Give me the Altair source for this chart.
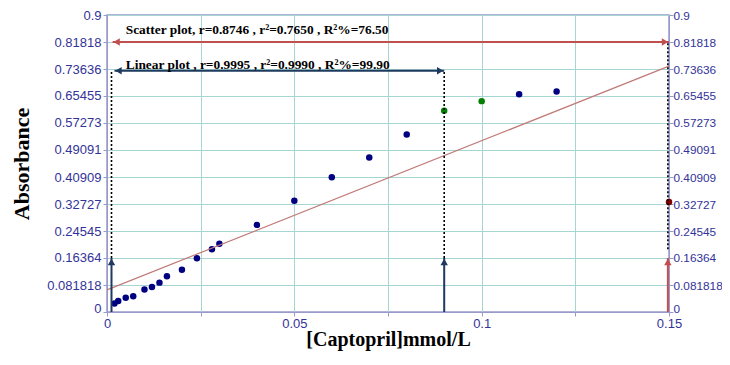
import altair as alt
import pandas as pd

# ---- data ----
conc = [0.002, 0.003, 0.005, 0.007, 0.010, 0.012, 0.014, 0.016, 0.020, 0.024,
        0.028, 0.030, 0.040, 0.050, 0.060, 0.070, 0.080, 0.090, 0.100, 0.110,
        0.120, 0.150]
absorb = [0.026, 0.033, 0.043, 0.048, 0.068, 0.076, 0.089, 0.108, 0.128, 0.163,
          0.190, 0.207, 0.264, 0.337, 0.408, 0.468, 0.538, 0.610, 0.639, 0.660,
          0.668, 0.333]
group = ["fit"] * 17 + ["limit", "limit", "fit", "fit", "outlier"]

reg_x = [0.0, 0.15]
reg_y = [0.067, 0.745]

y_ticks = [0, 0.081818, 0.16364, 0.24545, 0.32727, 0.40909, 0.49091,
           0.57273, 0.65455, 0.73636, 0.81818, 0.9]
x_ticks = [0, 0.025, 0.05, 0.075, 0.1, 0.125, 0.15]

# horizontal double arrows
h_x1 = [0.0015, 0.0020]
h_x2 = [0.15, 0.09]
h_y = [0.81818, 0.731]
h_kind = ["scatter", "linear"]
h_text = ["Scatter plot, r=0.8746 , r\u00b2=0.7650 , R\u00b2%=76.50",
          "Linear plot , r=0.9995 , r\u00b2=0.9990 , R\u00b2%=99.90"]
t_x = [0.005, 0.005]
t_y = [0.842, 0.735]

# vertical up arrows and dotted drop lines
v_x = [0.0012, 0.09, 0.1497]
v_top = [0.16364, 0.16364, 0.16364]
v_kind = ["linear", "linear", "scatter"]
d_y1 = [0.16364, 0.16364, 0.19]
d_y2 = [0.731, 0.731, 0.81818]

pts = pd.DataFrame({"c": conc, "a": absorb, "g": group})
reg = pd.DataFrame({"c": reg_x, "a": reg_y})
harr = pd.DataFrame({"x1": h_x1, "x2": h_x2, "y": h_y, "k": h_kind})
txt = pd.DataFrame({"x": t_x, "y": t_y, "t": h_text})
varr = pd.DataFrame({"x": v_x, "y0": [0, 0, 0], "y1": v_top, "k": v_kind})
dots = pd.DataFrame({"x": v_x, "y1": d_y1, "y2": d_y2})

xs = alt.Scale(domain=[0, 0.15], nice=False, zero=False)
ys = alt.Scale(domain=[0, 0.9], nice=False)

LAB = "#333399"
DOM = "#9999cc"
GRID = "#a6d6d2"

zero_up = alt.condition("datum.value == 0", alt.value(-4), alt.value(0))

x_axis = alt.Axis(values=x_ticks, format="~g",
                  labelExpr="round(datum.value*1000) % 50 == 0 ? datum.label : ''",
                  labelColor=LAB, labelFont="Liberation Sans", labelFontSize=13,
                  domainColor=DOM, tickColor=DOM, tickSize=4, gridColor=GRID,
                  grid=True, labelPadding=1, labelFlush=False,
                  title="[Captopril]mmol/L", titleFont="Liberation Serif",
                  titleFontSize=20, titleFontWeight="bold", titleColor="black",
                  titlePadding=-1)

y_left = alt.Axis(values=y_ticks, format=".5~r", labelColor=LAB,
                  labelFont="Liberation Sans", labelFontSize=13,
                  domainColor=DOM, tickColor=DOM, tickSize=4, gridColor=GRID,
                  grid=True, labelPadding=2, labelFlush=False,
                  labelOffset=zero_up,
                  title="Absorbance", titleFont="Liberation Serif",
                  titleFontSize=22, titleFontWeight="bold", titleColor="black",
                  titlePadding=13)

y_right = alt.Axis(values=y_ticks, format=".5~r", labelColor=LAB, orient="right",
                   labelFont="Liberation Sans", labelFontSize=11.8,
                   domainColor=DOM, tickColor=DOM, tickSize=4, grid=False,
                   labelPadding=0, labelFlush=False, labelOffset=zero_up,
                   title=None)

X = lambda f: alt.X(f, type="quantitative", scale=xs, axis=x_axis)

kscale = alt.Scale(domain=["scatter", "linear"], range=["#c0504d", "#1f3a5f"])
KC = alt.Color("k:N", scale=kscale, legend=None)

points = alt.Chart(pts).mark_circle(size=42, opacity=1).encode(
    x=X("c"),
    y=alt.Y("a:Q", scale=ys, axis=y_left),
    color=alt.Color("g:N", scale=alt.Scale(domain=["fit", "limit", "outlier"],
                                           range=["#000080", "#008000", "#800000"]),
                    legend=None),
)

regline = alt.Chart(reg).mark_line(color="#c07b78", strokeWidth=1.2).encode(
    x=X("c"),
    y=alt.Y("a:Q", scale=ys, axis=y_right),
)

hrule = alt.Chart(harr).mark_rule(strokeWidth=2).encode(
    x=X("x1"), x2="x2",
    y=alt.Y("y:Q", scale=ys, axis=None),
    color=KC,
)
hleft = alt.Chart(harr).mark_point(shape="triangle-left", filled=True, size=55,
                                   opacity=1, xOffset=4).encode(
    x=X("x1"), y=alt.Y("y:Q", scale=ys, axis=None), color=KC,
)
hright = alt.Chart(harr).mark_point(shape="triangle-right", filled=True, size=55,
                                    opacity=1, xOffset=-4).encode(
    x=X("x2"), y=alt.Y("y:Q", scale=ys, axis=None), color=KC,
)

vrule = alt.Chart(varr).mark_rule(strokeWidth=2).encode(
    x=X("x"), y=alt.Y("y0:Q", scale=ys, axis=None), y2="y1", color=KC,
)
vhead = alt.Chart(varr).mark_point(shape="triangle-up", filled=True, size=55,
                                   opacity=1, yOffset=4).encode(
    x=X("x"), y=alt.Y("y1:Q", scale=ys, axis=None), color=KC,
)

dotted = alt.Chart(dots).mark_rule(color="black", strokeWidth=1.6,
                                   strokeDash=[2, 2]).encode(
    x=X("x"), y=alt.Y("y1:Q", scale=ys, axis=None), y2="y2",
)

labels = alt.Chart(txt).mark_text(align="left", baseline="alphabetic",
                                  font="Liberation Serif", fontWeight="bold",
                                  fontSize=13.4, color="black").encode(
    x=X("x"), y=alt.Y("y:Q", scale=ys, axis=None), text="t:N",
)

chart = alt.layer(
    points, regline, dotted, hrule, hleft, hright, vrule, vhead, labels,
).resolve_axis(y="independent").resolve_scale(color="independent").properties(
    width=562, height=297,
    autosize=alt.AutoSizeParams(type="none"),
    padding={"left": 99, "top": 7, "right": 53, "bottom": 39},
    background="white",
).configure_view(stroke=DOM, strokeWidth=1.5)

chart.save("out.html", embed_options={"renderer": "svg", "actions": False})
